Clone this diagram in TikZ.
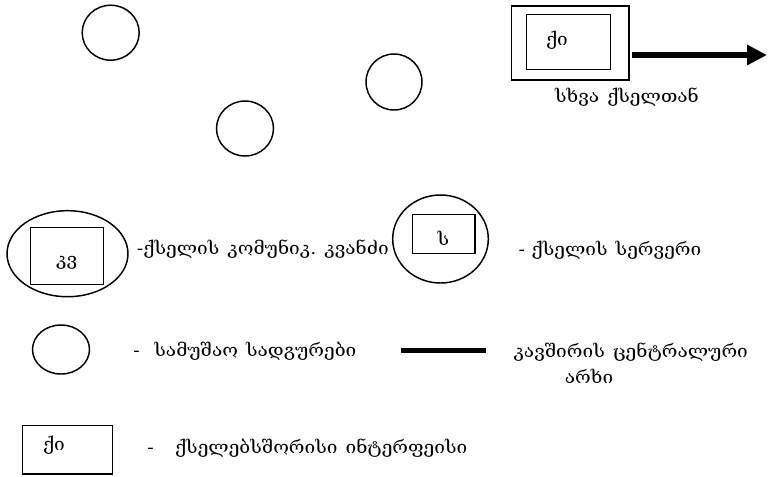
\documentclass[tikz,border=0pt]{standalone}
\usepackage{fontspec}
\setmainfont{DejaVu Serif}[FakeStretch=1.1]
\usetikzlibrary{shapes.geometric,arrows.meta}
\begin{document}
\begin{tikzpicture}[x=0.75pt,y=-0.75pt,
  every node/.style={font=\fontsize{13}{15}\selectfont},
  oval/.style={draw, ellipse, line width=1.1pt, inner sep=0pt},
  box/.style={draw, rectangle, line width=1.1pt, inner sep=0pt},
  txt/.style={inner sep=0pt},
  lbl/.style={inner sep=0pt, anchor=west}
]
\useasboundingbox (0,0) rectangle (771,476);
% workstations
\node[oval, minimum width=42.75pt, minimum height=41.25pt] (ws1) at (110.7,32.7) {};
\node[oval, minimum width=42.75pt, minimum height=41.25pt] (ws2) at (245,128.5) {};
\node[oval, minimum width=42pt, minimum height=42pt] (ws3) at (394,82) {};
% interface to other network
\node[box, minimum width=88pt, minimum height=55.7pt] (outer) at (570.3,42.9) {};
\node[box, minimum width=63pt, minimum height=41pt] (inner) at (568.7,42) {};
\node[txt] (ki1) at (557,40) {ქი};
\coordinate (arrowend) at (767,55);
\draw[line width=4.3pt, -{Triangle[length=15pt,width=14.5pt]}] ([xshift=2pt]outer.east |- arrowend) -- (arrowend);
\node[txt] (other) at (627,97) {სხვა\hspace{6pt}ქსელთან};
% legend: communication node
\node[oval, minimum width=90.75pt, minimum height=64.5pt] (kvoval) at (67.5,253.7) {};
\node[box, minimum width=54.5pt, minimum height=42.75pt] (kvbox) at (67,255.8) {};
\node[txt] (kv) at (66.7,263) {კვ};
\node[lbl] (kvlbl) at (136.7,249) {-ქსელის\hspace{6pt}კომუნიკ.\hspace{6pt}კვანძი};
% legend: server
\node[oval, minimum width=71.7pt, minimum height=66pt] (srvoval) at (440.5,239) {};
\node[box, minimum width=47pt, minimum height=29.25pt] (srvbox) at (443.7,233.8) {};
\node[txt] (s) at (443.3,238.3) {ს};
\node[lbl] (srvlbl) at (518.3,250) {-\hspace{5pt}ქსელის\hspace{6pt}სერვერი};
% legend: workstation
\node[oval, minimum width=42.75pt, minimum height=36.75pt] (wsleg) at (61,349.5) {};
\node[lbl] (wslbl) at (133,351.7) {-\hspace{11pt}სამუშაო\hspace{6pt}სადგურები};
% legend: backbone
\coordinate (bbA) at (401,350.5);
\coordinate (bbB) at (486,350.5);
\draw[line width=4.3pt] (bbA) -- (bbB);
\node[lbl] (bblbl1) at (513.3,351.7) {კავშირის\hspace{6pt}ცენტრალური};
\node[txt] (bblbl2) at (589,376.7) {არხი};
% legend: interface
\node[box, minimum width=67.2pt, minimum height=36.2pt] (ifbox) at (67.5,449.8) {};
\node[txt] (ki2) at (54,445) {ქი};
\node[lbl] (iflbl) at (147,448) {-\hspace{16pt}ქსელებსშორისი\hspace{6pt}ინტერფეისი};
\end{tikzpicture}
\end{document}
